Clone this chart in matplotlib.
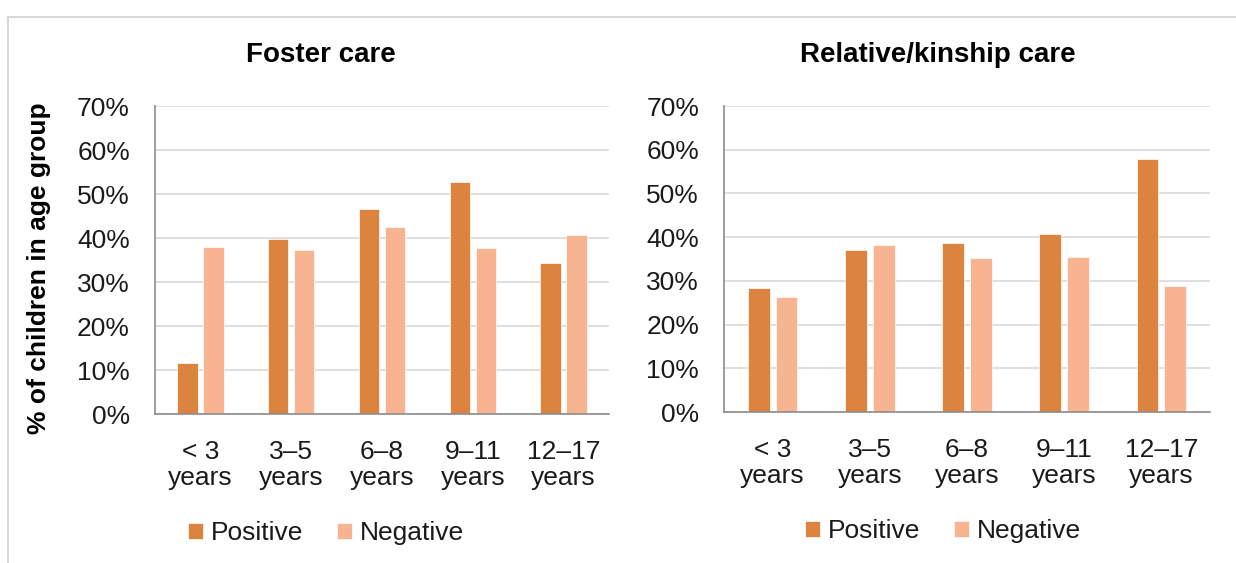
import matplotlib.pyplot as plt
from matplotlib.lines import Line2D
from matplotlib.ticker import FuncFormatter
import numpy as np

plt.rcParams["font.family"] = ["Liberation Sans", "DejaVu Sans"]

# datos
age_groups = ["< 3\nyears", "3–5\nyears", "6–8\nyears", "9–11\nyears", "12–17\nyears"]
series_names = ["Positive", "Negative"]
foster_positive = [11.5, 39.7, 46.7, 52.8, 34.3]
foster_negative = [38.0, 37.2, 42.5, 37.7, 40.7]
kinship_positive = [28.3, 37.1, 38.7, 40.7, 57.8]
kinship_negative = [26.3, 38.1, 35.3, 35.5, 28.9]
panel_titles = ["Foster care", "Relative/kinship care"]
y_label = "% of children in age group"

COL_POS = "#DC843F"
COL_NEG = "#F8B490"
GRID = "#D9D9D9"
SPINE = "#8C8C8C"
TXT = "#1A1A1A"
FS = 19

W, H = 1236, 563
fig = plt.figure(figsize=(W / 100, H / 100), dpi=100)


def px_axes(x0, x1, y_top, y_bot):
    return fig.add_axes([x0 / W, 1 - y_bot / H, (x1 - x0) / W, (y_bot - y_top) / H])


def draw_panel(ax, pos, neg):
    x = np.arange(len(age_groups))
    bw, off = 0.224, 0.143
    ax.bar(x - off, pos, bw, color=COL_POS, edgecolor="white", linewidth=0.5,
           label=series_names[0], zorder=3)
    ax.bar(x + off, neg, bw, color=COL_NEG, edgecolor="white", linewidth=0.5,
           label=series_names[1], zorder=3)
    ax.set_xlim(-0.5, len(age_groups) - 0.5)
    ax.set_ylim(0, 70)
    ax.set_yticks(np.arange(0, 71, 10))
    ax.yaxis.set_major_formatter(FuncFormatter(lambda v, _: f"{v:.0f}%"))
    ax.set_xticks(x)
    ax.set_xticklabels(age_groups, linespacing=1.08)
    ax.tick_params(axis="both", length=0, labelsize=FS, colors=TXT)
    ax.tick_params(axis="y", pad=18)
    ax.tick_params(axis="x", pad=19)
    ax.grid(axis="y", color=GRID, linewidth=1.2, zorder=0)
    ax.set_axisbelow(True)
    for s in ("top", "right"):
        ax.spines[s].set_visible(False)
    for s in ("left", "bottom"):
        ax.spines[s].set_color(SPINE)
        ax.spines[s].set_linewidth(1.2)
        ax.spines[s].set_zorder(4)


ax1 = px_axes(155, 609, 106, 414)
ax2 = px_axes(724, 1210, 106, 412)
draw_panel(ax1, foster_positive, foster_negative)
draw_panel(ax2, kinship_positive, kinship_negative)

# títulos centrados sobre el área de cada gráfico
fig.text(321 / W, 1 - 55 / H, panel_titles[0], ha="center", va="center",
         fontsize=20, fontweight="bold", color="black")
fig.text(938 / W, 1 - 55 / H, panel_titles[1], ha="center", va="center",
         fontsize=20, fontweight="bold", color="black")
fig.text(39 / W, 1 - 268 / H, y_label, rotation=90, ha="center", va="center",
         fontsize=19, fontweight="bold", color="black")

for ax, cx, cy in ((ax1, 326, 533), (ax2, 943, 531)):
    ax.legend(loc="center", bbox_to_anchor=(cx / W, 1 - cy / H),
              bbox_transform=fig.transFigure, ncol=2, frameon=False,
              fontsize=FS, handlelength=0.55, handleheight=0.55,
              handletextpad=0.3, columnspacing=1.3, labelcolor=TXT)

# marco del gráfico (parcialmente visible)
fig.add_artist(Line2D([8 / W, 1], [1 - 17 / H, 1 - 17 / H], color=GRID, lw=1.5,
                      transform=fig.transFigure))
fig.add_artist(Line2D([8 / W, 8 / W], [0, 1 - 17 / H], color=GRID, lw=1.5,
                      transform=fig.transFigure))

fig.savefig("out.png", dpi=100, facecolor="white")
